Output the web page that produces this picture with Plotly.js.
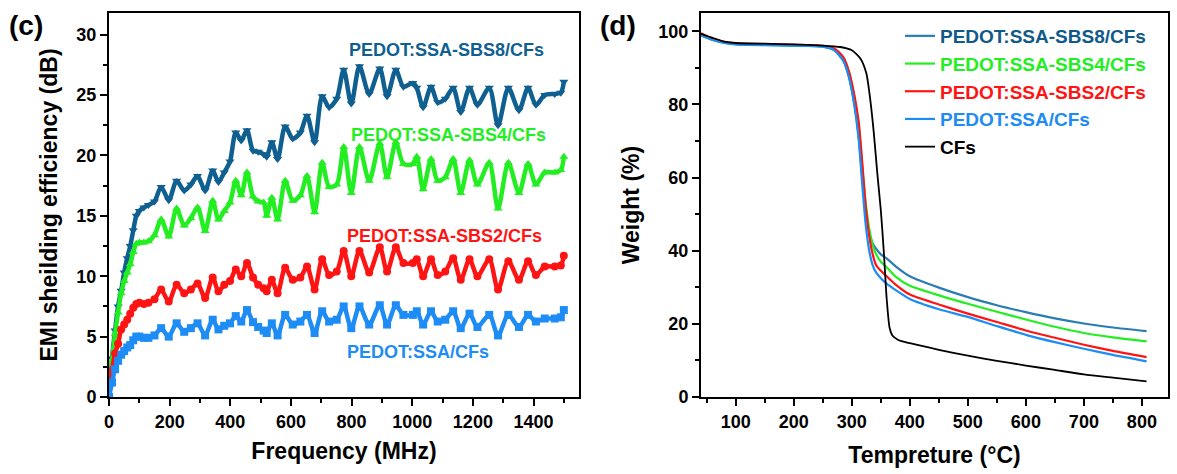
<!DOCTYPE html>
<html><head><meta charset="utf-8">
<script src="https://cdn.plot.ly/plotly-3.0.1.min.js"></script>
<style>html,body{margin:0;padding:0;background:#fff}#chart{width:1177px;height:474px}</style>
</head><body><div id="chart"></div>
<script>
// ---------- Panel (c): EMI shielding efficiency ----------
const freqMHz = [0,10,20,30,40,50,60,70,80,90,100,115,130,150,
  172,197,223,248,270,292,317,342,361,380,
  399,418,436,455,475,492,510,520,537,556,
  581,606,631,653,678,703,726,751,774,799,
  826,858,893,917,946,971,1002,1015,1036,1062,
  1084,1109,1135,1160,1189,1215,1254,1283,1317,1352,
  1382,1408,1437,1470,1490,1500];
const seSBS8 = [0,3.2,5.5,7.5,8.8,10.3,11.5,12.5,13.8,15.0,15.4,15.7,15.9,16.2,
  17.4,16.3,17.9,17.1,17.6,18.3,17.1,18.75,17.8,18.6,
  19.5,21.9,21.25,22.1,20.4,20.3,20.1,19.9,21.1,19.7,
  22.4,21.4,21.9,23.3,21.1,24.9,24.0,24.7,27.1,24.3,
  27.4,25.1,27.2,24.9,27.1,25.7,26.0,25.6,24.0,25.7,
  24.4,24.7,25.6,23.6,25.6,24.2,25.6,22.5,25.6,23.75,
  25.6,24.2,25.0,25.1,25.2,26.1];
const seSBS4 = [0,3.0,5.2,7.0,8.6,9.6,10.3,11.0,12.0,12.7,12.8,12.8,12.9,13.4,
  14.7,13.3,15.6,14.2,14.8,15.7,13.75,16.25,14.7,15.4,
  16.1,17.9,16.7,18.6,16.6,16.2,16.1,15.0,16.5,14.7,
  17.9,16.25,16.7,18.3,15.3,19.4,17.4,17.6,20.7,16.9,
  20.7,17.9,21.0,18.2,21.1,19.3,19.3,19.9,17.2,19.7,
  17.9,18.2,19.7,16.9,19.6,17.6,19.4,15.6,19.4,16.9,
  19.3,17.6,18.6,18.6,18.8,19.9];
const seSBS2 = [0,2.2,3.6,4.4,5.6,6.0,6.4,6.9,7.4,7.7,7.8,7.7,7.8,8.1,
  8.9,7.9,9.3,8.6,8.9,9.4,8.2,9.9,8.75,9.3,
  9.6,10.55,10.0,11.1,9.9,9.3,9.0,8.75,9.7,8.6,
  10.7,9.7,9.9,10.8,8.9,11.4,10.1,10.4,12.1,10.0,
  12.1,10.3,12.4,10.4,12.4,11.1,11.1,11.4,10.0,11.4,
  10.1,10.4,11.5,9.7,11.4,10.0,11.4,8.9,11.25,9.7,
  11.25,10.1,10.8,10.8,10.9,11.7];
const seSSA = [0,1.2,2.3,3.0,3.5,3.8,4.1,4.3,4.7,5.0,5.0,4.9,4.9,5.1,
  5.7,5.0,6.1,5.4,5.7,6.1,5.1,6.4,5.6,5.9,
  6.1,6.7,6.25,7.2,6.2,5.8,5.5,5.3,6.1,5.1,
  6.8,6.0,6.25,6.8,5.3,7.1,6.25,6.4,7.5,5.7,
  7.5,6.0,7.6,6.0,7.6,6.8,6.8,7.1,6.0,7.1,
  6.25,6.4,7.1,5.7,6.9,5.8,6.8,5.1,6.8,5.8,
  6.8,6.25,6.5,6.5,6.6,7.2];

const seNames = ['PEDOT:SSA-SBS8/CFs','PEDOT:SSA-SBS4/CFs','PEDOT:SSA-SBS2/CFs','PEDOT:SSA/CFs'];
const seColors = ['#0F6090','#22EE22','#FF1414','#1E8CF5'];
const seSymbols = ['triangle-down','triangle-up','circle','square'];
const seLabelX = [1112,1120,1105,1019];
const seLabelY = [28.75,21.7,13.3,3.75];

// ---------- Panel (d): TGA ----------
const tempC = [40,60,80,100,150,200,250,270,285,295,305,312,318,324,330,336,342,350,360,375,400,450,500,550,600,650,700,750,808];
const wSBS8 = [99.0,97.7,96.9,96.5,96.3,96.1,95.8,94.8,92.0,87.5,79.5,71,60,51,45,42,40.5,39.0,37.9,35.8,33.0,29.9,27.3,25.1,23.2,21.5,20.1,19.0,18.0];
const wSBS4 = [99.0,97.7,96.9,96.5,96.3,96.1,95.9,95.0,92.8,89,81.5,74,63,53,46,41.5,39,37,35.5,33.0,30.4,27.8,25.5,23.3,21.2,19.2,17.5,16.3,15.2];
const wSBS2 = [99.5,98.0,97.1,96.7,96.5,96.3,96.0,95.3,93.0,89,82,75,64,52,44,39,36,34.5,33.0,30.8,28.0,25.3,22.8,20.5,18.2,16.2,14.3,12.6,10.9];
const wSSA  = [98.8,97.6,96.8,96.4,96.2,96.1,95.8,94.8,92.0,87.5,79,70,58,47,40,36,34,32.5,31.0,29.3,26.8,24.0,21.9,19.4,17.0,15.0,13.2,11.5,9.75];
const cfTempC = [40,60,80,100,150,200,250,280,300,315,325,332,338,344,350,355,360,365,370,380,400,450,500,550,600,650,700,750,808];
const wCFs = [99.3,98.2,97.2,96.8,96.6,96.4,96.1,95.7,94.8,92.5,88.5,81,72,61,51,40,27,19,16.8,15.6,14.7,12.9,11.3,9.9,8.6,7.4,6.2,5.3,4.3];

const tgaNames = ['PEDOT:SSA-SBS8/CFs','PEDOT:SSA-SBS4/CFs','PEDOT:SSA-SBS2/CFs','PEDOT:SSA/CFs','CFs'];
const tgaLineColors = ['#2A7DB3','#22EE22','#FF1414','#1E8CF5','#000000'];
const tgaTextColors = ['#0F5A88','#22EE22','#FF1414','#1E8CF5','#000000'];

const FONT = 'Liberation Sans, Arial, sans-serif';

const seSeries = [seSBS8, seSBS4, seSBS2, seSSA];
const traces = [];
seSeries.forEach((ys, i) => {
  traces.push({
    x: freqMHz, y: ys, xaxis: 'x', yaxis: 'y', type: 'scatter', mode: 'lines+markers',
    line: {color: seColors[i], width: 4.5, shape: 'spline', smoothing: 0.8},
    marker: {symbol: seSymbols[i], size: 8, color: seColors[i]},
    showlegend: false, name: seNames[i]
  });
});
const tgaX = [tempC, tempC, tempC, tempC, cfTempC];
const tgaY = [wSBS8, wSBS4, wSBS2, wSSA, wCFs];
tgaY.forEach((ys, i) => {
  traces.push({
    x: tgaX[i], y: ys, xaxis: 'x2', yaxis: 'y2', type: 'scatter', mode: 'lines',
    line: {color: tgaLineColors[i], width: i === 4 ? 1.8 : 2.2, shape: 'spline', smoothing: 0.6},
    name: '<span style="color:' + tgaTextColors[i] + '">' + tgaNames[i] + '</span>',
    showlegend: true
  });
});

const axisCommon = {
  showline: true, mirror: true, linecolor: '#000', linewidth: 2,
  ticks: 'outside', ticklen: 7, tickwidth: 2, tickcolor: '#000',
  showgrid: false, zeroline: false,
  tickfont: {family: FONT, size: 18, color: '#000', weight: 'bold'}
};
const titleFont = {family: FONT, size: 23, color: '#000', weight: 'bold'};

const annotations = seNames.map((n, i) => ({
  x: seLabelX[i], y: seLabelY[i], xref: 'x', yref: 'y', text: n, showarrow: false,
  font: {family: FONT, size: 18, color: seColors[i], weight: 'bold'}, xanchor: 'center', yanchor: 'middle'
}));
annotations.push({x: 7/1177, y: 1 - 25/474, xref: 'paper', yref: 'paper', text: '(c)', showarrow: false,
  xanchor: 'left', yanchor: 'middle', font: {family: FONT, size: 28, color: '#000', weight: 'bold'}});
annotations.push({x: 598/1177, y: 1 - 25/474, xref: 'paper', yref: 'paper', text: '(d)', showarrow: false,
  xanchor: 'left', yanchor: 'middle', font: {family: FONT, size: 28, color: '#000', weight: 'bold'}});

const layout = {
  width: 1177, height: 474, autosize: false,
  margin: {l: 0, r: 0, t: 0, b: 0},
  paper_bgcolor: '#fff', plot_bgcolor: '#fff',
  font: {family: FONT, color: '#000', weight: 'bold'},
  xaxis: Object.assign({}, axisCommon, {
    domain: [109/1177, 579/1177], range: [0, 1550], tick0: 0, dtick: 200,
    minor: {dtick: 100, ticks: 'outside', ticklen: 4, tickwidth: 2, tickcolor: '#000'},
    title: {text: 'Frequency (MHz)', font: titleFont, standoff: 12}, anchor: 'y'
  }),
  yaxis: Object.assign({}, axisCommon, {
    domain: [1 - 397/474, 1 - 13/474], range: [0, 31.8], tick0: 0, dtick: 5,
    minor: {dtick: 2.5, ticks: 'outside', ticklen: 4, tickwidth: 2, tickcolor: '#000'},
    title: {text: 'EMI sheilding efficiency (dB)', font: titleFont, standoff: 12}, anchor: 'x'
  }),
  xaxis2: Object.assign({}, axisCommon, {
    domain: [701/1177, 1168/1177], range: [40, 845], tick0: 0, dtick: 100,
    minor: {dtick: 50, ticks: 'outside', ticklen: 4, tickwidth: 2, tickcolor: '#000'},
    title: {text: 'Tempreture (°C)', font: titleFont, standoff: 16}, anchor: 'y2'
  }),
  yaxis2: Object.assign({}, axisCommon, {
    domain: [1 - 397/474, 1 - 13/474], range: [0, 105], tick0: 0, dtick: 20,
    minor: {dtick: 10, ticks: 'outside', ticklen: 4, tickwidth: 2, tickcolor: '#000'},
    title: {text: 'Weight (%)', font: titleFont, standoff: 12}, anchor: 'x2'
  }),
  showlegend: true,
  legend: {x: 900/1177, y: 1 - 17/474, xanchor: 'left', yanchor: 'top', bgcolor: 'rgba(0,0,0,0)',
    font: {family: FONT, size: 19, color: '#000', weight: 'bold'}, tracegroupgap: 0, itemwidth: 30},
  annotations: annotations
};

Plotly.newPlot('chart', traces, layout, {displayModeBar: false, staticPlot: true});
</script>
</body></html>
